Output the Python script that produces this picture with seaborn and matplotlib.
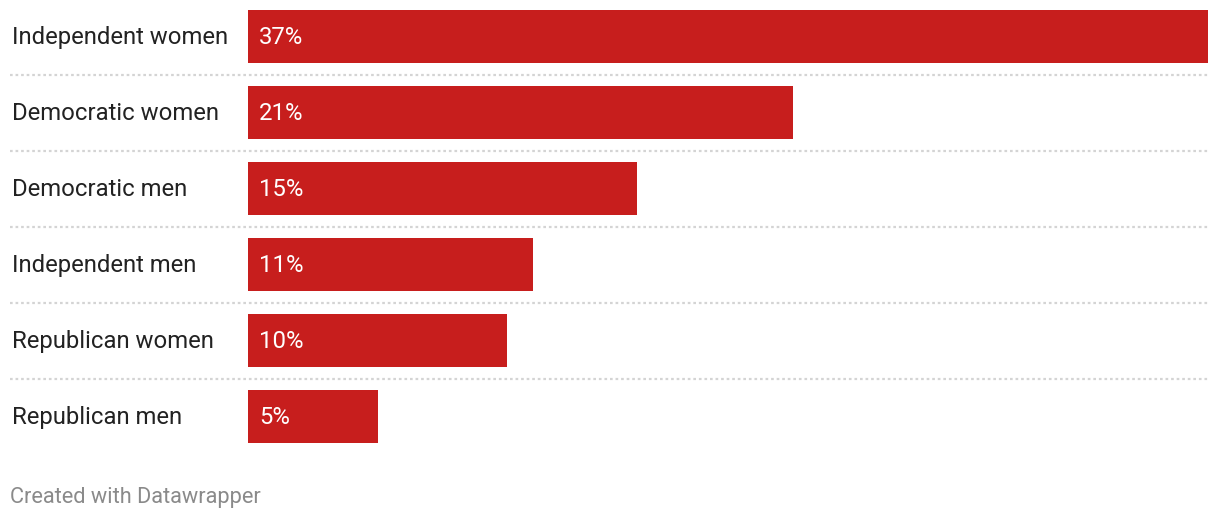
import matplotlib
matplotlib.use("Agg")
import matplotlib.pyplot as plt
import seaborn as sns
import pandas as pd

categories = ["Independent women", "Democratic women", "Democratic men",
              "Independent men", "Republican women", "Republican men"]
values = [37, 21, 15, 11, 10, 5]
value_labels = ["37%", "21%", "15%", "11%", "10%", "5%"]

sns.set_theme(style="white")
plt.rcParams['font.family'] = ['Roboto', 'DejaVu Sans']

W, H = 1220, 520
fig = plt.figure(figsize=(W / 100, H / 100), dpi=100)
ax = fig.add_axes([248 / W, 1 - 456 / H, 960 / W, 456 / H])

df = pd.DataFrame({"cat": categories, "val": values})
sns.barplot(data=df, x="val", y="cat", orient="h", color="#c71e1d",
            saturation=1, width=53 / 76, linewidth=0, ax=ax)

ax.set_xlim(0, 37)
ax.set_ylim(5.52, -0.48)
ax.set_xlabel("")
ax.set_ylabel("")
ax.set_xticks([])
ax.set_yticks([])
for s in ax.spines.values():
    s.set_visible(False)

xfrac_left = (12 - 248) / 960
for i, (cat, lab) in enumerate(zip(categories, value_labels)):
    ax.text(xfrac_left, i + 0.01, cat, transform=ax.get_yaxis_transform(),
            ha="left", va="center", fontsize=17.2, color="#222222")
    ax.text(11 / 960, i + 0.01, lab, transform=ax.get_yaxis_transform(),
            ha="left", va="center", fontsize=17.2, color="white")

for i in range(len(categories) - 1):
    ax.axhline(i + 0.505, xmin=(10 - 248) / 960, xmax=1, color="#d4d4d4",
               lw=1.6, ls=(0, (1.2, 1.3)), clip_on=False)

fig.text(10 / W, 1 - 498 / H, "Created with Datawrapper", ha="left",
         va="center", fontsize=15.7, color="#8a8a8a")

fig.savefig("out.png", dpi=100, facecolor="white")
